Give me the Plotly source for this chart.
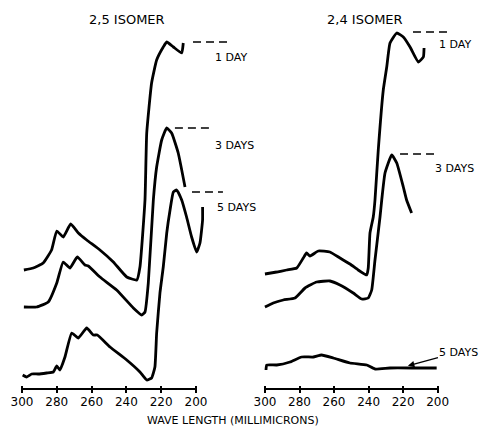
import plotly.graph_objects as go

# ---- data (wavelength in millimicrons, relative absorbance; arbitrary units) ----
wl_25_1 = [298.9, 293.5, 287.8, 283, 280, 276.3, 272, 267.6, 262.8, 255.2, 247.5, 239.8, 234, 232.2,
           229.3, 228.3, 225.5, 222.6, 218.8, 216.8, 213, 208.2, 207.3]
ab_25_1 = [1.19, 1.21, 1.26, 1.39, 1.58, 1.52, 1.65, 1.56, 1.49, 1.39, 1.27, 1.12, 1.09, 1.22,
           1.89, 2.56, 3.06, 3.29, 3.42, 3.47, 3.42, 3.36, 3.46]

wl_25_3 = [298.9, 291.6, 284.9, 280, 276.3, 272.4, 268.2, 263.8, 261.9, 255.2, 245.6, 236, 231.2,
           229.3, 227.4, 224.5, 222.6, 219.7, 216.8, 214, 210.2, 206.3]
ab_25_3 = [0.82, 0.82, 0.87, 1.06, 1.27, 1.21, 1.32, 1.24, 1.23, 1.12, 0.99, 0.81, 0.74,
           0.77, 1.06, 1.89, 2.22, 2.49, 2.61, 2.56, 2.36, 2.02]

wl_25_5 = [299.6, 297.3, 294.4, 290.6, 285.8, 282, 280, 278.2, 275.3, 271.4, 267.6, 262.8, 259, 256.7,
           249.4, 239.8, 232.2, 228.3, 225.5, 223.6, 222.6, 220.7, 218.8, 216.8, 214.9, 213, 211.1,
           208.2, 205.4, 202.5, 199.6, 197.7, 196.2, 196.2]
ab_25_5 = [0.14, 0.12, 0.15, 0.15, 0.16, 0.17, 0.23, 0.19, 0.32, 0.56, 0.51, 0.61, 0.54, 0.54,
           0.42, 0.29, 0.17, 0.09, 0.11, 0.22, 0.56, 0.96, 1.22, 1.56, 1.79, 1.97, 1.99,
           1.89, 1.72, 1.52, 1.37, 1.46, 1.69, 1.82]

wl_24_1 = [300, 293.2, 287.4, 281.6, 277.8, 275.9, 273.9, 269.1, 262.4, 256.6, 250.8, 246, 241.1, 240.2,
           239.2, 237.3, 236.3, 234.4, 231.5, 229.5, 227.6, 223.7, 219.9, 216, 211.2, 208.3, 207.9]
ab_24_1 = [1.15, 1.17, 1.19, 1.21, 1.31, 1.36, 1.33, 1.38, 1.37, 1.31, 1.25, 1.19, 1.14, 1.21,
           1.56, 1.72, 1.89, 2.39, 2.99, 3.22, 3.46, 3.56, 3.52, 3.42, 3.27, 3.32, 3.41]

wl_24_3 = [300, 295.2, 289.4, 282.6, 276.8, 270.1, 262.4, 256.6, 248.9, 244, 240.2, 238.2, 236.3,
           233.4, 232.4, 230.5, 226.6, 223.7, 219.9, 218, 215.1]
ab_24_3 = [0.82, 0.86, 0.89, 0.91, 1.01, 1.07, 1.08, 1.04, 0.96, 0.90, 0.91, 0.99, 1.29,
           1.72, 1.89, 2.16, 2.34, 2.26, 2.02, 1.89, 1.76]

wl_24_5 = [299.4, 299, 293.2, 285.5, 278.8, 272, 267.2, 260.4, 250.8, 241.1, 236.3, 227.6, 212.2, 200.6]
ab_24_5 = [0.19, 0.24, 0.24, 0.27, 0.32, 0.32, 0.34, 0.31, 0.26, 0.24, 0.20, 0.21, 0.21, 0.21]

tick_vals = [300, 280, 260, 240, 220, 200]
tick_text = ["300", "280", "260", "240", "220", "200"]

panel_titles = ["2,5 ISOMER", "2,4 ISOMER"]
day_labels = ["1 DAY", "3 DAYS", "5 DAYS"]

# reference (dashed) peak levels: (start wl, end wl, level)
dash_25 = [(201.7, 180.5, 3.47), (212.1, 190.2, 2.61), (202.3, 184.5, 1.97)]
dash_24 = [(214.3, 194.6, 3.57), (221.8, 200.4, 2.35)]
label_25 = [(190.2, 3.32), (190.2, 2.44), (189.1, 1.82)]
label_24 = [(200.4, 3.45), (202.7, 2.21)]
arrow_24_5 = (217.8, 0.23)

FONT = "DejaVu Sans"
LW = 2.8

fig = go.Figure()

def curve(x, y, ax):
    fig.add_trace(go.Scatter(x=x, y=y, mode="lines", xaxis=ax, yaxis="y",
                             line=dict(color="black", width=LW, shape="spline", smoothing=0.4),
                             showlegend=False, hoverinfo="skip"))

for x, y in [(wl_25_1, ab_25_1), (wl_25_3, ab_25_3), (wl_25_5, ab_25_5)]:
    curve(x, y, "x")
for x, y in [(wl_24_1, ab_24_1), (wl_24_3, ab_24_3), (wl_24_5, ab_24_5)]:
    curve(x, y, "x2")

# dashed peak reference lines
for ax, dashes in [("x", dash_25), ("x2", dash_24)]:
    for x0, x1, lvl in dashes:
        fig.add_trace(go.Scatter(x=[x0, x1], y=[lvl, lvl], mode="lines", xaxis=ax, yaxis="y",
                                 line=dict(color="black", width=1.3, dash="8px,5px"),
                                 showlegend=False, hoverinfo="skip"))

# axis baselines (300 -> 200)
for ax in ["x", "x2"]:
    fig.add_shape(type="line", xref=ax, yref="y", x0=tick_vals[0], x1=tick_vals[-1], y0=0, y1=0,
                  line=dict(color="black", width=2))

LABEL_FONT = dict(family=FONT, size=11, color="black")
ann = []
for (x, y), t in zip(label_25, day_labels):
    ann.append(dict(x=x, y=y, xref="x", yref="y", text=t, showarrow=False, xanchor="left",
                    yanchor="middle", font=LABEL_FONT))
for (x, y), t in zip(label_24, day_labels[:2]):
    ann.append(dict(x=x, y=y, xref="x2", yref="y", text=t, showarrow=False, xanchor="left",
                    yanchor="middle", font=LABEL_FONT))
ann.append(dict(x=arrow_24_5[0], y=arrow_24_5[1], xref="x2", yref="y", text=day_labels[2],
                showarrow=True, ax=52, ay=-14, arrowhead=2, arrowsize=1, arrowwidth=1.3,
                arrowcolor="black", standoff=1, font=LABEL_FONT))
ann.append(dict(x=127 / 482, y=0.951, xref="paper", yref="paper", text=panel_titles[0],
                xanchor="center", yanchor="middle",
                showarrow=False, font=dict(family=FONT, size=13, color="black")))
ann.append(dict(x=365 / 482, y=0.951, xref="paper", yref="paper", text=panel_titles[1],
                xanchor="center", yanchor="middle",
                showarrow=False, font=dict(family=FONT, size=13, color="black")))
ann.append(dict(x=233 / 482, y=(393 - 420) / 393, xref="paper", yref="paper",
                text="WAVE LENGTH (MILLIMICRONS)", showarrow=False,
                xanchor="center", yanchor="middle",
                font=dict(family=FONT, size=11, color="black")))

xcommon = dict(tickvals=tick_vals, ticktext=tick_text, ticks="inside", ticklen=7, tickwidth=1.5,
               tickcolor="black", showline=False, showgrid=False, zeroline=False, automargin=False,
               tickfont=dict(family=FONT, size=12, color="black"), anchor="y")

fig.update_layout(
    template="none",
    width=482, height=431,
    margin=dict(l=0, r=0, t=0, b=38, pad=0, autoexpand=False),
    paper_bgcolor="white", plot_bgcolor="white",
    xaxis=dict(domain=[18.5 / 482, 260 / 482], range=[302, 163.2], **xcommon),
    xaxis2=dict(domain=[261.5 / 482, 1.0], range=[302, 174.35], **xcommon),
    yaxis=dict(range=[-0.04, 3.89], visible=False, showgrid=False, zeroline=False, automargin=False),
    annotations=ann,
)

fig.write_html("out.html", config={"displayModeBar": False},
               post_script="document.body.style.margin='0';")
